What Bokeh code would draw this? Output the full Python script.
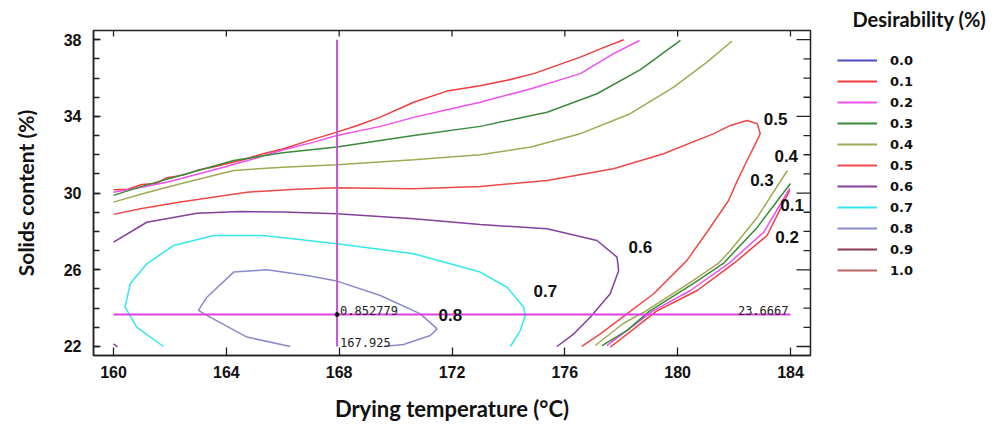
import math
from bokeh.plotting import figure
from bokeh.layouts import row
from bokeh.models import Range1d, FixedTicker, Legend, LegendItem
from bokeh.embed import file_html
from bokeh.resources import INLINE
from bokeh.core.properties import value

# ---------------- data ----------------
x_ticks = [160, 164, 168, 172, 176, 180, 184]
y_ticks = [22, 26, 30, 34, 38]
y_minor = list(range(22, 39))

levels = ["0.0", "0.1", "0.2", "0.3", "0.4", "0.5", "0.6", "0.7", "0.8", "0.9", "1.0"]
level_colors = ["#4b4bc4", "#f03c3c", "#f050f0", "#3a8a3a", "#a3a852", "#ee4848",
                "#84409a", "#33e8ee", "#8a8acc", "#8c3c50", "#b86464"]

# desirability 0.1
temp_01_top = [160.0, 160.5, 161.0, 161.5, 161.9, 162.5, 163.0, 163.5, 163.9, 164.5, 165.3, 166.0,
               166.86, 167.92, 168.7, 169.46, 170.64, 171.82, 173.0, 173.95, 174.9, 175.7, 176.55, 177.3, 178.09]
solids_01_top = [30.17, 30.2, 30.45, 30.5, 30.8, 30.95, 31.2, 31.35, 31.49, 31.7, 32.05, 32.3,
                 32.71, 33.18, 33.55, 33.96, 34.74, 35.32, 35.6, 35.88, 36.23, 36.65, 37.09, 37.55, 38.0]
temp_01_band = [177.61, 179.24, 180.69, 181.99, 183.17, 183.97]
solids_01_band = [21.96, 23.83, 24.92, 26.33, 27.79, 30.14]

# desirability 0.2
temp_02_top = [160.0, 161.0, 162.0, 163.0, 163.9, 165.0, 166.0, 167.0, 167.92, 169.46, 170.64,
               171.82, 173.0, 174.8, 176.55, 177.73, 178.65]
solids_02_top = [30.05, 30.3, 30.6, 31.0, 31.35, 31.8, 32.25, 32.62, 33.0, 33.48, 33.95,
                 34.35, 34.74, 35.44, 36.23, 37.27, 37.96]
temp_02_band = [177.49, 179.1, 180.45, 181.81, 183.05, 183.97]
solids_02_band = [22.05, 23.83, 24.92, 26.33, 27.95, 30.24]

# desirability 0.3
temp_03_top = [160.0, 161.0, 162.37, 164.26, 166.0, 167.92, 170.64, 173.0, 175.37, 177.14, 178.68, 180.1]
solids_03_top = [29.88, 30.35, 30.92, 31.70, 32.1, 32.4, 33.0, 33.48, 34.22, 35.18, 36.44, 37.96]
temp_03_band = [177.32, 178.2, 178.99, 180.62, 181.62, 182.82, 184.0]
solids_03_band = [22.05, 22.83, 23.83, 25.34, 26.33, 28.21, 30.5]

# desirability 0.4
temp_04_top = [160.0, 161.0, 162.37, 164.26, 166.0, 167.92, 170.64, 173.0, 174.8, 176.55, 178.32,
               179.86, 181.04, 181.93]
solids_04_top = [29.53, 29.95, 30.49, 31.18, 31.35, 31.48, 31.74, 32.0, 32.4, 33.1, 34.14,
                 35.53, 36.83, 37.93]
temp_04_band = [177.08, 178.07, 178.85, 180.45, 181.44, 181.87, 182.82, 183.89]
solids_04_band = [22.05, 23.2, 23.83, 25.34, 26.33, 27.01, 28.73, 31.18]

# desirability 0.5
temp_05 = [160.0, 161.0, 162.37, 164.73, 166.5, 167.92, 170.64, 173.0, 175.37, 177.73, 179.5, 181.28,
           181.87, 182.46, 182.82, 182.93, 182.7, 182.46, 182.1, 181.8, 181.16, 180.33, 179.15, 178.2,
           177.26, 176.6]
solids_05 = [28.89, 29.2, 29.53, 30.05, 30.2, 30.28, 30.23, 30.35, 30.66, 31.27, 32.05, 33.1,
             33.53, 33.79, 33.62, 33.1, 32.4, 31.7, 30.6, 29.6, 28.22, 26.49, 24.75, 23.7,
             22.66, 22.0]

# desirability 0.6
temp_06 = [160.0, 161.18, 162.96, 164.49, 166.0, 167.92, 170.64, 173.0, 175.37, 177.14, 177.85,
           177.91, 177.61, 176.9, 176.32, 175.72]
solids_06 = [27.44, 28.48, 28.95, 29.04, 29.02, 28.92, 28.66, 28.36, 28.14, 27.53, 26.66,
             25.96, 24.75, 23.53, 22.66, 22.0]
temp_06_corner = [160.0, 160.14]
solids_06_corner = [22.14, 21.98]

# desirability 0.7
temp_07 = [161.77, 160.83, 160.41, 160.59, 161.18, 162.13, 163.55, 165.32, 167.92, 170.64, 173.0,
           173.95, 174.54, 174.6, 174.42, 174.07]
solids_07 = [22.0, 23.0, 24.05, 25.27, 26.31, 27.27, 27.79, 27.79, 27.36, 26.84, 25.88,
             25.09, 24.05, 23.62, 22.83, 22.0]

# desirability 0.8
temp_08 = [166.27, 164.73, 163.31, 163.01, 163.31, 164.26, 165.44, 166.86, 167.92, 169.46, 170.88,
           171.47, 171.23, 170.28, 169.58]
solids_08 = [22.0, 22.49, 23.62, 23.88, 24.57, 25.88, 26.0, 25.7, 25.41, 24.66, 23.7,
             22.92, 22.57, 22.1, 22.0]

# contour labels
label_text = ["0.5", "0.4", "0.3", "0.1", "0.2", "0.6", "0.7", "0.8"]
label_x = [183.47, 183.85, 182.99, 184.06, 183.88, 178.68, 175.31, 171.94]
label_y = [33.89, 31.96, 30.66, 29.36, 27.70, 27.18, 24.88, 23.62]

# optimum
opt_temp = 167.925
opt_solids = 23.6667
opt_desir = 0.852779

contours = {
    "0.0": [],
    "0.1": [(temp_01_top, solids_01_top), (temp_01_band, solids_01_band)],
    "0.2": [(temp_02_top, solids_02_top), (temp_02_band, solids_02_band)],
    "0.3": [(temp_03_top, solids_03_top), (temp_03_band, solids_03_band)],
    "0.4": [(temp_04_top, solids_04_top), (temp_04_band, solids_04_band)],
    "0.5": [(temp_05, solids_05)],
    "0.6": [(temp_06, solids_06), (temp_06_corner, solids_06_corner)],
    "0.7": [(temp_07, solids_07)],
    "0.8": [(temp_08, solids_08)],
    "0.9": [],
    "1.0": [],
}

# ---------------- main figure ----------------
xr = Range1d(159.29, 184.71)
yr = Range1d(21.53, 38.48)
p = figure(width=812, height=429, output_backend="svg", toolbar_location=None,
           x_range=xr, y_range=yr,
           min_border_left=93, min_border_right=2, min_border_top=30, min_border_bottom=74)
p.grid.visible = False
p.outline_line_color = "#222222"
p.outline_line_width = 1.5
p.background_fill_color = "white"
p.border_fill_color = "white"

tick_font = "Liberation Sans"
title_font = "Lato"

p.xaxis.ticker = FixedTicker(ticks=x_ticks)
p.yaxis.ticker = FixedTicker(ticks=y_ticks, minor_ticks=y_minor)
for ax in (p.xaxis[0], p.yaxis[0]):
    ax.axis_line_color = "#222222"
    ax.axis_line_width = 1.5
    ax.major_tick_line_color = "#222222"
    ax.minor_tick_line_color = "#222222"
    ax.major_tick_line_width = 1.3
    ax.minor_tick_line_width = 1.3
    ax.major_tick_out = 0
    ax.minor_tick_out = 0
    ax.major_label_text_font = tick_font
    ax.major_label_text_font_style = "bold"
    ax.major_label_text_font_size = "16px"
    ax.major_label_text_color = "#111111"
    ax.axis_label_text_font = title_font
    ax.axis_label_text_font_style = "bold"
    ax.axis_label_text_color = "#111111"
p.xaxis.axis_label_text_font_size = "22px"
p.yaxis.axis_label_text_font_size = "21px"
p.xaxis.major_tick_in = 8
p.yaxis.major_tick_in = 7
p.yaxis.minor_tick_in = 6
p.xaxis.major_label_standoff = 10
p.yaxis.major_label_standoff = 12
p.xaxis.axis_label = "Drying temperature (°C)"
p.yaxis.axis_label = "Solids content (%)"
p.xaxis.axis_label_standoff = 14
p.yaxis.axis_label_standoff = 23

# inward ticks on the top and right frame edges
tick_col = "#222222"
p.ray(x=x_ticks, y=[yr.end] * len(x_ticks), length=6, length_units="screen",
      angle=-math.pi / 2, line_color=tick_col, line_width=1.3)
p.ray(x=[xr.end] * len(y_ticks), y=y_ticks, length=14, length_units="screen",
      angle=math.pi, line_color=tick_col, line_width=1.3)
y_minor_only = [v for v in y_minor if v not in y_ticks]
p.ray(x=[xr.end] * len(y_minor_only), y=y_minor_only, length=7, length_units="screen",
      angle=math.pi, line_color=tick_col, line_width=1.3)

# contour lines
for lev, col in zip(levels, level_colors):
    segs = contours[lev]
    if segs:
        p.multi_line(xs=[s[0] for s in segs], ys=[s[1] for s in segs],
                     line_color=col, line_width=1.5)

# crosshair at optimum
p.segment(x0=[opt_temp], y0=[y_ticks[0]], x1=[opt_temp], y1=[y_ticks[-1]],
          line_color="#c455d6", line_width=2)
p.segment(x0=[x_ticks[0]], y0=[opt_solids], x1=[x_ticks[-1]], y1=[opt_solids],
          line_color="#e040e0", line_width=2)
p.scatter(x=[opt_temp], y=[opt_solids], size=4, color="#111111")

mono = value("DejaVu Sans Mono")
p.text(x=[opt_temp], y=[opt_solids], text=[f"{opt_desir:.6f}"], text_font=mono,
       text_font_size="12px", text_color="#222222", text_align="left", text_baseline="bottom",
       x_offset=3, y_offset=0)
p.text(x=[opt_temp], y=[y_ticks[0]], text=[f"{opt_temp:.3f}"], text_font=mono,
       text_font_size="12px", text_color="#222222", text_align="left", text_baseline="bottom",
       x_offset=3, y_offset=1)
p.text(x=[x_ticks[-1]], y=[opt_solids], text=[f"{opt_solids:.4f}"], text_font=mono,
       text_font_size="12px", text_color="#222222", text_align="right", text_baseline="bottom",
       x_offset=-2, y_offset=0)

# contour labels
p.text(x=label_x, y=label_y, text=label_text, text_font=value(tick_font), text_font_style="bold",
       text_font_size="17px", text_color="#111111", text_align="center", text_baseline="middle")

# ---------------- legend panel ----------------
lg = figure(width=182, height=429, output_backend="svg", toolbar_location=None,
            min_border=0, x_axis_type=None, y_axis_type=None,
            x_range=Range1d(0, 1), y_range=Range1d(0, 1))
lg.grid.visible = False
lg.outline_line_color = None
lg.background_fill_color = "white"
lg.border_fill_color = "white"
lg.title.text = "Desirability (%)"
lg.title.text_font = title_font
lg.title.text_font_style = "bold"
lg.title.text_font_size = "20px"
lg.title.text_color = "#111111"
lg.title.align = "left"
lg.title.offset = 40
lg.title.standoff = 0

nan = float("nan")
items = []
for lev, col in zip(levels, level_colors):
    r = lg.line(x=[nan], y=[nan], line_color=col, line_width=2)
    items.append(LegendItem(label=lev, renderers=[r]))

legend = Legend(items=items, location=(25, 75), orientation="vertical",
                glyph_width=40, glyph_height=20, label_height=20, spacing=1,
                label_standoff=13, padding=0, margin=0,
                border_line_color=None, background_fill_alpha=0,
                label_text_font="DejaVu Sans", label_text_font_style="bold",
                label_text_font_size="13px", label_text_color="#111111")
lg.add_layout(legend, "center")

layout = row(p, lg)
open("out.html", "w").write(file_html(layout, INLINE))
